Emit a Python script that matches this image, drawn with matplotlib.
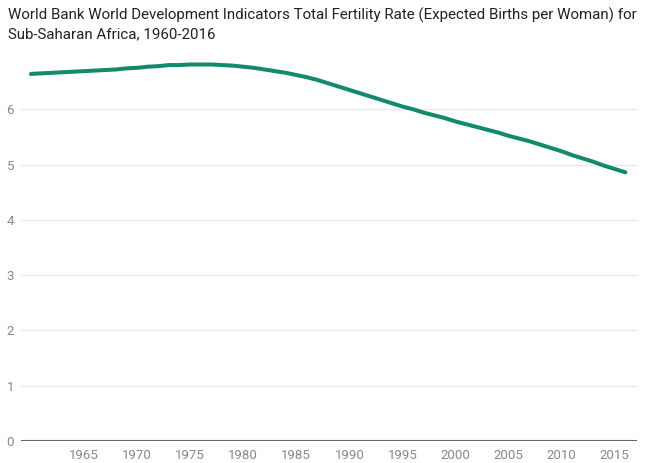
import numpy as np
import matplotlib.pyplot as plt

plt.rcParams['font.family'] = ['Roboto', 'DejaVu Sans']

years = list(range(1960, 2017))
fertility = [6.64, 6.65, 6.66, 6.67, 6.68, 6.69, 6.70, 6.71, 6.72, 6.74,
             6.75, 6.77, 6.78, 6.80, 6.80, 6.81, 6.81, 6.81, 6.80, 6.79,
             6.77, 6.75, 6.72, 6.69, 6.66, 6.62, 6.58, 6.53, 6.47, 6.41,
             6.35, 6.29, 6.23, 6.17, 6.11, 6.05, 6.00, 5.94, 5.89, 5.84,
             5.78, 5.73, 5.68, 5.63, 5.58, 5.52, 5.47, 5.42, 5.36, 5.30,
             5.24, 5.17, 5.11, 5.05, 4.98, 4.92, 4.86]
xticks = list(range(1965, 2016, 5))
yticks = [0, 1, 2, 3, 4, 5, 6]

W, H = 662, 463
fig = plt.figure(figsize=(W / 100, H / 100), dpi=100)
left, right, bottom, top = 21, 637, 441, 54
ax = fig.add_axes([left / W, 1 - bottom / H, (right - left) / W, (bottom - top) / H])

ax.plot(years, fertility, color='#148a6c', lw=2.9, solid_capstyle='round')

ax.set_xlim(1959.06, 2017.1)
ax.set_ylim(0, 7)
ax.set_xticks(xticks)
ax.set_yticks(yticks)
for y in yticks[1:]:
    ax.axhline(y, color='#e8e8e8', lw=1, zorder=0)
ax.axhline(0, color='#666666', lw=1.5, zorder=3)

for s in ax.spines.values():
    s.set_visible(False)
ax.tick_params(axis='both', length=0, labelsize=9.5, colors='#888888')
ax.tick_params(axis='x', pad=6)
ax.tick_params(axis='y', pad=5)

fig.text(8 / W, 1 - 8 / H,
         'World Bank World Development Indicators Total Fertility Rate (Expected Births per Woman) for\n'
         'Sub-Saharan Africa, 1960-2016',
         ha='left', va='top', fontsize=10.9, color='#222222', linespacing=1.38)

fig.savefig('out.png', dpi=100)
